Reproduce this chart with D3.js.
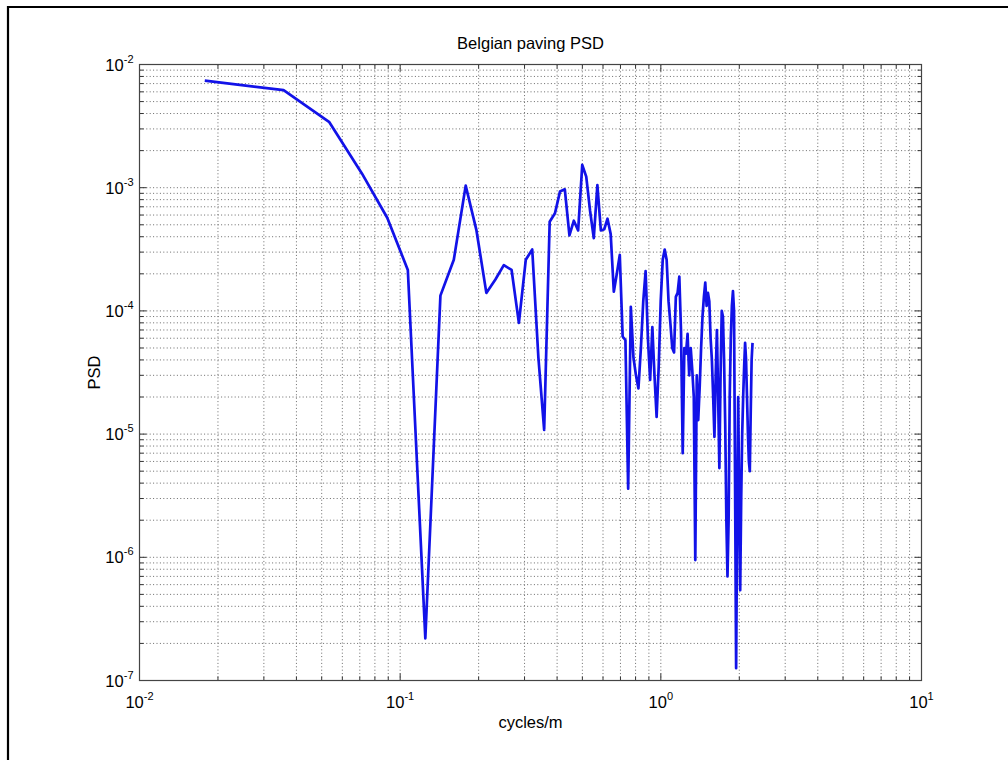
<!DOCTYPE html>
<html>
<head>
<meta charset="utf-8">
<script src="https://cdn.jsdelivr.net/npm/d3@7"></script>
<style>
    body { margin: 0; background: #ffffff; }
    svg { display: block; font-family: "Liberation Sans", Arial, Helvetica, sans-serif; }
</style>
</head>
<body>
<svg id="drawing_region"></svg>
<script>
// spatial frequency (cycles/m)
const freq = [
    0.0178, 0.0357, 0.0535, 0.0714, 0.0892, 0.1070, 0.1249, 0.1427, 0.1606, 0.1784,
    0.1962, 0.2141, 0.2319, 0.2498, 0.2676, 0.2854, 0.3033, 0.3211, 0.3390, 0.3568,
    0.3746, 0.3925, 0.4103, 0.4282, 0.4460, 0.4638, 0.4817, 0.4995, 0.5174, 0.5352,
    0.5530, 0.5709, 0.5887, 0.6066, 0.6244, 0.6422, 0.6601, 0.6779, 0.6958, 0.7136,
    0.7314, 0.7493, 0.7671, 0.7850, 0.8028, 0.8206, 0.8385, 0.8563, 0.8742, 0.8920,
    0.9098, 0.9277, 0.9455, 0.9634, 0.9812, 0.9990, 1.0169, 1.0347, 1.0526, 1.0704,
    1.0882, 1.1061, 1.1239, 1.1418, 1.1596, 1.1774, 1.1953, 1.2131, 1.2310, 1.2488,
    1.2666, 1.2845, 1.3023, 1.3202, 1.3380, 1.3558, 1.3737, 1.3915, 1.4094, 1.4272,
    1.4450, 1.4629, 1.4807, 1.4986, 1.5164, 1.5342, 1.5521, 1.5699, 1.5878, 1.6056,
    1.6234, 1.6413, 1.6591, 1.6770, 1.6948, 1.7126, 1.7305, 1.7483, 1.7662, 1.7840,
    1.8018, 1.8197, 1.8375, 1.8554, 1.8732, 1.8910, 1.9089, 1.9267, 1.9446, 1.9624,
    1.9802, 1.9981, 2.0159, 2.0338, 2.0516, 2.0694, 2.0873, 2.1051, 2.1230, 2.1408,
    2.1586, 2.1765, 2.1943, 2.2122, 2.2300, 2.2478
];

// power spectral density
const psd = [
    7.4e-3, 6.2e-3, 3.4e-3, 1.3e-3, 5.7e-4, 2.15e-4, 2.2e-7, 1.33e-4, 2.6e-4, 1.04e-3,
    4.5e-4, 1.4e-4, 1.8e-4, 2.35e-4, 2.15e-4, 8.0e-5, 2.6e-4, 3.15e-4, 4.2e-5, 1.08e-5,
    5.3e-4, 6.2e-4, 9.3e-4, 9.7e-4, 4.1e-4, 5.4e-4, 4.5e-4, 1.53e-3, 1.23e-3, 6.5e-4,
    3.9e-4, 1.05e-3, 4.5e-4, 4.6e-4, 5.6e-4, 4.2e-4, 1.43e-4, 2.0e-4, 2.85e-4, 6.2e-5,
    5.8e-5, 3.6e-6, 1.08e-4, 4.2e-5, 3.0e-5, 2.35e-5, 5.0e-5, 1.2e-4, 2.1e-4, 6.0e-5,
    2.75e-5, 7.4e-5, 3.0e-5, 1.38e-5, 3.5e-5, 1.2e-4, 2.6e-4, 3.15e-4, 2.6e-4, 1.2e-4,
    7.9e-5, 5.0e-5, 4.6e-5, 1.3e-4, 1.4e-4, 1.9e-4, 6.8e-5, 7.0e-6, 5.0e-5, 4.5e-5,
    6.5e-5, 3.0e-5, 5.0e-5, 3.3e-5, 2.0e-5, 9.5e-7, 3.0e-5, 1.3e-5, 2.4e-5, 5.0e-5,
    9.0e-5, 1.3e-4, 1.7e-4, 1.1e-4, 1.4e-4, 1.2e-4, 6.0e-5, 4.0e-5, 2.0e-5, 9.5e-6,
    3.0e-5, 7.0e-5, 2.0e-5, 5.3e-6, 3.0e-5, 1.0e-4, 9.0e-5, 4.0e-5, 1.2e-5, 2.0e-6,
    7.0e-7, 2.0e-6, 2.0e-5, 6.0e-5, 1.1e-4, 1.45e-4, 1.0e-4, 4.0e-6, 1.26e-7, 2.0e-6,
    2.0e-5, 3.0e-6, 5.4e-7, 3.0e-6, 1.0e-5, 2.0e-5, 3.5e-5, 5.5e-5, 4.0e-5, 2.0e-5,
    1.0e-5, 6.0e-6, 5.0e-6, 1.5e-5, 4.0e-5, 5.5e-5
];

// decade tick labels
const xdecades = [1e-2, 1e-1, 1e0, 1e1];
const xexponents = ['-2', '-1', '0', '1'];
const ydecades = [1e-2, 1e-3, 1e-4, 1e-5, 1e-6, 1e-7];
const yexponents = ['-2', '-3', '-4', '-5', '-6', '-7'];

class LogLogChart {
    constructor (config, data) {
        this.config = {
            parent: config.parent,
            width: config.width || 256,
            height: config.height || 256,
            margin: config.margin || {top:10, right:10, bottom:10, left:10},
            title: config.title || '',
            xlabel: config.xlabel || '',
            ylabel: config.ylabel || ''
        };
        this.data = data;
        this.init();
    }

    init() {
        let self = this;

        self.svg = d3.select(self.config.parent)
            .attr('width', self.config.width)
            .attr('height', self.config.height);

        // outer frame (only top and left edges visible)
        self.svg.append('path')
            .attr('d', `M8,${self.config.height} V7 H${self.config.width}`)
            .attr('fill', 'none')
            .attr('stroke', '#000')
            .attr('stroke-width', 2.2);

        self.chart = self.svg.append('g')
            .attr('transform', `translate(${self.config.margin.left}, ${self.config.margin.top})`);

        self.inner_width = self.config.width - self.config.margin.left - self.config.margin.right;
        self.inner_height = self.config.height - self.config.margin.top - self.config.margin.bottom;

        self.xscale = d3.scaleLog()
            .domain([1e-2, 1e1])
            .range([0, self.inner_width]);

        self.yscale = d3.scaleLog()
            .domain([1e-7, 1e-2])
            .range([self.inner_height, 0]);

        self.line = d3.line()
            .x(d => self.xscale(d.f))
            .y(d => self.yscale(d.p));

        self.grid_group = self.chart.append('g');
        self.tick_group = self.chart.append('g');
        self.line_group = self.chart.append('g');

        self.svg.append('text')
            .style('font-size', '16.5px')
            .attr('x', self.config.margin.left + self.inner_width / 2)
            .attr('y', 49)
            .attr('text-anchor', 'middle')
            .text(self.config.title);

        self.svg.append('text')
            .style('font-size', '16.5px')
            .attr('x', self.config.margin.left + self.inner_width / 2)
            .attr('y', 728)
            .attr('text-anchor', 'middle')
            .text(self.config.xlabel);

        self.svg.append('text')
            .style('font-size', '16.5px')
            .attr('transform', `translate(100, ${self.config.margin.top + self.inner_height / 2}) rotate(-90)`)
            .attr('text-anchor', 'middle')
            .text(self.config.ylabel);
    }

    render() {
        let self = this;
        const w = self.inner_width, h = self.inner_height;
        const xticks = self.xscale.ticks();
        const yticks = self.yscale.ticks();

        // dotted grid, minor and major
        self.grid_group.selectAll('.vgrid')
            .data(xticks)
            .join('line')
            .attr('x1', d => self.xscale(d)).attr('x2', d => self.xscale(d))
            .attr('y1', 0).attr('y2', h)
            .attr('stroke', '#6a6a6a')
            .attr('stroke-width', 1)
            .attr('stroke-dasharray', '1,2.4');

        self.grid_group.selectAll('.hgrid')
            .data(yticks)
            .join('line')
            .attr('x1', 0).attr('x2', w)
            .attr('y1', d => self.yscale(d)).attr('y2', d => self.yscale(d))
            .attr('stroke', '#6a6a6a')
            .attr('stroke-width', 1)
            .attr('stroke-dasharray', '1,2.4');

        // inward ticks on all four sides
        const tlen = d => (xdecades.includes(d) || ydecades.includes(d)) ? 7 : 4;
        const tickStyle = sel => sel.attr('stroke', '#333').attr('stroke-width', 1);

        self.tick_group.selectAll('.tb').data(xticks).join('line')
            .attr('x1', d => self.xscale(d)).attr('x2', d => self.xscale(d))
            .attr('y1', h).attr('y2', d => h - tlen(d)).call(tickStyle);
        self.tick_group.selectAll('.tt').data(xticks).join('line')
            .attr('x1', d => self.xscale(d)).attr('x2', d => self.xscale(d))
            .attr('y1', 0).attr('y2', d => tlen(d)).call(tickStyle);
        self.tick_group.selectAll('.tl').data(yticks).join('line')
            .attr('y1', d => self.yscale(d)).attr('y2', d => self.yscale(d))
            .attr('x1', 0).attr('x2', d => tlen(d)).call(tickStyle);
        self.tick_group.selectAll('.tr').data(yticks).join('line')
            .attr('y1', d => self.yscale(d)).attr('y2', d => self.yscale(d))
            .attr('x1', w).attr('x2', d => w - tlen(d)).call(tickStyle);

        self.chart.append('rect')
            .attr('width', w).attr('height', h)
            .attr('fill', 'none')
            .attr('stroke', '#444')
            .attr('stroke-width', 1.2);

        // decade labels as 10^n
        self.chart.selectAll('.xlab').data(xdecades).join('text')
            .attr('x', d => self.xscale(d))
            .attr('y', h + 27)
            .attr('text-anchor', 'middle')
            .style('font-size', '16.5px')
            .each(function (d, i) {
                const t = d3.select(this);
                t.append('tspan').text('10');
                t.append('tspan').attr('dy', -8).style('font-size', '11px').text(xexponents[i]);
            });

        self.chart.selectAll('.ylab').data(ydecades).join('text')
            .attr('x', -6)
            .attr('y', d => self.yscale(d) + 6)
            .attr('text-anchor', 'end')
            .style('font-size', '16.5px')
            .each(function (d, i) {
                const t = d3.select(this);
                t.append('tspan').text('10');
                t.append('tspan').attr('dy', -8).style('font-size', '11px').text(yexponents[i]);
            });

        self.line_group.append('path')
            .attr('d', self.line(self.data))
            .attr('fill', 'none')
            .attr('stroke', '#1212e8')
            .attr('stroke-width', 2.7)
            .attr('stroke-linejoin', 'round');
    }
}

const data = freq.map((f, i) => ({f: f, p: psd[i]}));

const chart = new LogLogChart({
    parent: '#drawing_region',
    width: 1008,
    height: 760,
    margin: {top: 64.5, right: 86.5, bottom: 79.5, left: 139.5},
    title: 'Belgian paving PSD',
    xlabel: 'cycles/m',
    ylabel: 'PSD'
}, data);
chart.render();
</script>
</body>
</html>
